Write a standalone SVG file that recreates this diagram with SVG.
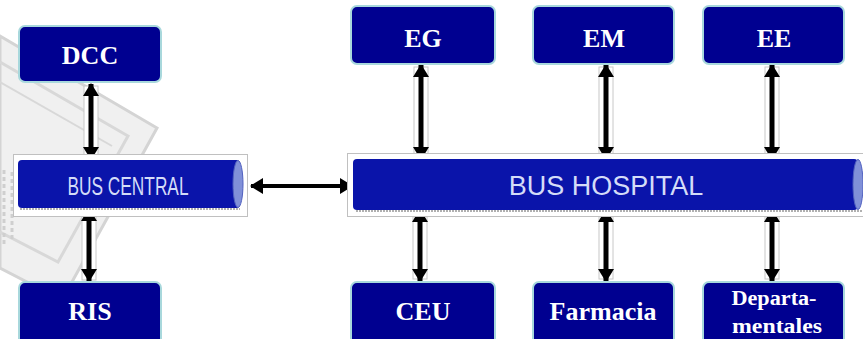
<svg xmlns="http://www.w3.org/2000/svg" width="863" height="339" viewBox="0 0 863 339">
<style>
.box{fill:#000090;stroke:#a8d8dc;stroke-width:2}
.lbl{font-family:"Liberation Serif","Times New Roman",serif;font-weight:bold;fill:#ffffff;text-anchor:middle}
.frame{fill:#ffffff;stroke:#c0c0c0;stroke-width:1}
.cyl{fill:#0a14aa}
.cap{fill:#8090d8;stroke:#5060c0;stroke-width:1}
.shadow{stroke:#b0b0b0;stroke-width:2;stroke-dasharray:2 1}
.bustxt{font-family:"Liberation Sans",Arial,sans-serif;fill:#d4dcf8;text-anchor:middle}
.sheath{fill:#ffffff;stroke:#c8c8c8;stroke-width:1}
.shaft{stroke:#000000;stroke-width:5}
.bg{fill:#f0f0f0;stroke:#d4d4d4;stroke-width:3}
</style>
<defs>
<marker id="ah" viewBox="0 0 13 16" refX="12" refY="8" markerWidth="13" markerHeight="16" markerUnits="userSpaceOnUse" orient="auto-start-reverse">
<path d="M0,0 L13,8 L0,16 Z" fill="#000000"/>
</marker>
</defs>
<rect width="863" height="339" fill="#ffffff"/>
<g id="background">
<polygon class="bg" points="0,36 157,128 62,300 0,268"/>
<polyline points="0,62 128,136 58,262 0,232" fill="none" stroke="#d8d8d8" stroke-width="3"/>
<polyline points="0,82 112,146" fill="none" stroke="#d8d8d8" stroke-width="2"/>
<path d="M4,170 L4,245 M12,172 L12,240" stroke="#cfcfcf" stroke-width="3" stroke-dasharray="4 3" fill="none"/>
</g>
<g id="connectors">
<rect class="sheath" x="84" y="86" width="14" height="72"/>
<line class="shaft" x1="91" y1="84" x2="91" y2="159" marker-start="url(#ah)" marker-end="url(#ah)"/>
<rect class="sheath" x="82" y="211" width="14" height="69"/>
<line class="shaft" x1="89" y1="209" x2="89" y2="281" marker-start="url(#ah)" marker-end="url(#ah)"/>
<line x1="251" y1="186" x2="352" y2="186" stroke="#000" stroke-width="4" marker-start="url(#ah)" marker-end="url(#ah)"/>
<rect class="sheath" x="414" y="67" width="14" height="90"/>
<line class="shaft" x1="421" y1="65" x2="421" y2="159" marker-start="url(#ah)" marker-end="url(#ah)"/>
<rect class="sheath" x="413" y="212" width="14" height="67"/>
<line class="shaft" x1="420" y1="210" x2="420" y2="281" marker-start="url(#ah)" marker-end="url(#ah)"/>
<rect class="sheath" x="599" y="67" width="14" height="90"/>
<line class="shaft" x1="606" y1="65" x2="606" y2="159" marker-start="url(#ah)" marker-end="url(#ah)"/>
<rect class="sheath" x="599" y="212" width="14" height="67"/>
<line class="shaft" x1="606" y1="210" x2="606" y2="281" marker-start="url(#ah)" marker-end="url(#ah)"/>
<rect class="sheath" x="765" y="67" width="14" height="90"/>
<line class="shaft" x1="772" y1="65" x2="772" y2="159" marker-start="url(#ah)" marker-end="url(#ah)"/>
<rect class="sheath" x="765" y="212" width="14" height="67"/>
<line class="shaft" x1="772" y1="210" x2="772" y2="281" marker-start="url(#ah)" marker-end="url(#ah)"/>
</g>
<g id="bus-central">
<rect class="frame" x="13.5" y="154.5" width="234" height="62"/>
<line class="shadow" x1="20" y1="209" x2="240" y2="209"/>
<rect class="cyl" x="18" y="160" width="222" height="48" rx="4"/>
<ellipse class="cap" cx="238" cy="184" rx="5" ry="23.5"/>
<text class="bustxt" x="128" y="195" font-size="26" textLength="121" lengthAdjust="spacingAndGlyphs">BUS CENTRAL</text>
</g>
<g id="bus-hospital">
<rect class="frame" x="347.5" y="153.5" width="520" height="63"/>
<line class="shadow" x1="356" y1="211" x2="862" y2="211"/>
<rect class="cyl" x="353" y="159" width="505" height="51" rx="4"/>
<ellipse class="cap" cx="858" cy="184.5" rx="5" ry="25"/>
<text class="bustxt" x="606" y="195" font-size="27">BUS HOSPITAL</text>
</g>
<g id="dcc"><rect class="box" x="19" y="26" width="142" height="56" rx="6"/><text class="lbl" x="90" y="64" font-size="26">DCC</text></g>
<g id="ris"><rect class="box" x="19" y="282" width="142" height="64" rx="6"/><text class="lbl" x="90" y="320" font-size="26">RIS</text></g>
<g id="eg"><rect class="box" x="351" y="6" width="144" height="58" rx="6"/><text class="lbl" x="423" y="47" font-size="26">EG</text></g>
<g id="em"><rect class="box" x="533" y="6" width="141" height="58" rx="6"/><text class="lbl" x="604" y="47" font-size="26">EM</text></g>
<g id="ee"><rect class="box" x="703" y="6" width="141" height="58" rx="6"/><text class="lbl" x="774" y="47" font-size="26">EE</text></g>
<g id="ceu"><rect class="box" x="351" y="282" width="144" height="64" rx="6"/><text class="lbl" x="423" y="320" font-size="26">CEU</text></g>
<g id="farmacia"><rect class="box" x="533" y="282" width="141" height="64" rx="6"/><text class="lbl" x="603" y="320" font-size="26">Farmacia</text></g>
<g id="departamentales"><rect class="box" x="703" y="282" width="141" height="64" rx="6"/>
<text class="lbl" x="774" y="305" font-size="20" textLength="85" lengthAdjust="spacingAndGlyphs">Departa-</text>
<text class="lbl" x="777" y="333" font-size="21" textLength="90" lengthAdjust="spacingAndGlyphs">mentales</text></g>
</svg>
